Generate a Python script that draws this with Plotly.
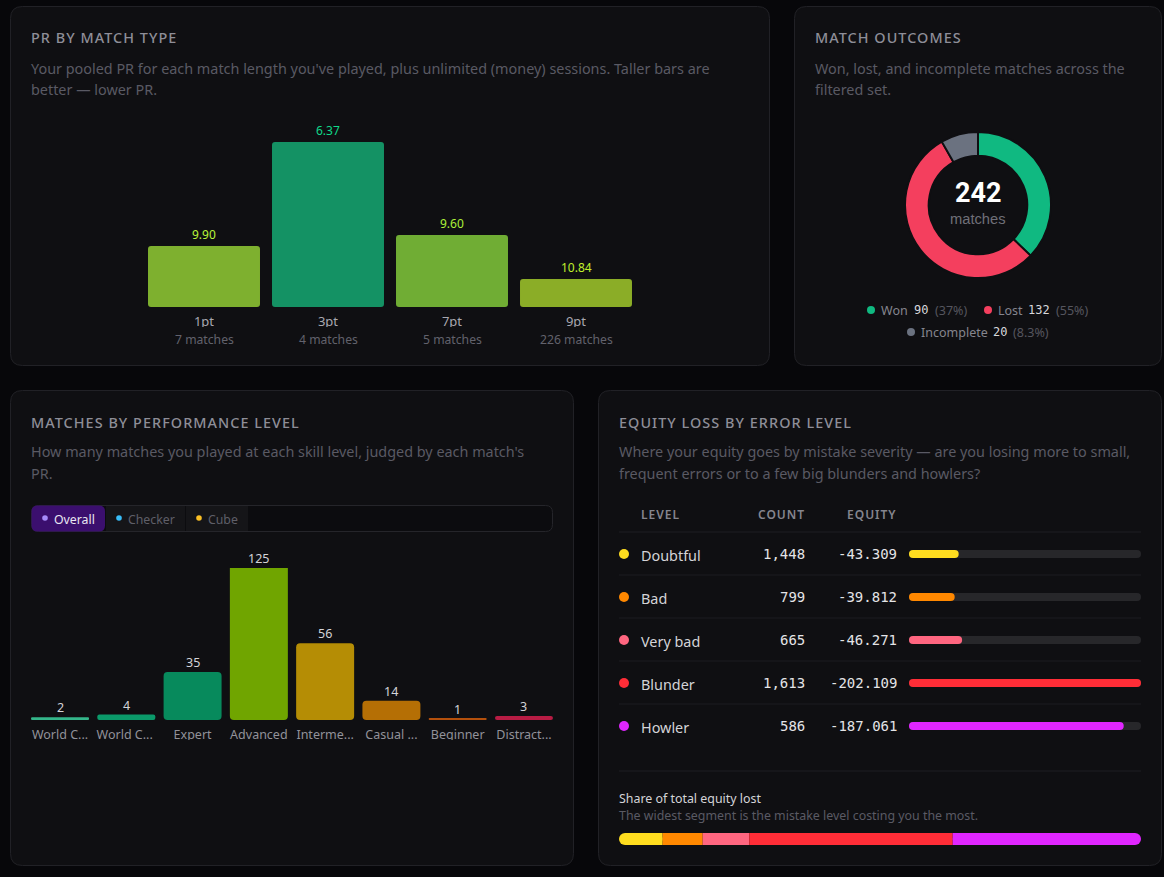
import plotly.graph_objects as go

W, H = 1164, 877
PAGE = "#07070a"
CARD = "#0f0f12"
BORDER = "#212126"
TITLE_C = "#8e8e98"
SUB_C = "#5a5a64"
SANS = "Noto Sans"
MONO = "DejaVu Sans Mono"

# ---- data -------------------------------------------------------------
match_types = ["1pt", "3pt", "7pt", "9pt"]
match_counts = ["7 matches", "4 matches", "5 matches", "226 matches"]
pr_labels = ["9.90", "6.37", "9.60", "10.84"]
pr_bar_heights = [61, 165, 72, 28]
pr_bar_colors = ["#7eb02f", "#149264", "#70ad34", "#8bad27"]
pr_text_colors = ["#b8f53a", "#10d98a", "#acf03a", "#c0f02c"]

outcomes = ["Won", "Lost", "Incomplete"]
outcome_counts = [90, 132, 20]
outcome_shares = ["(37%)", "(55%)", "(8.3%)"]
outcome_colors = ["#10b981", "#f43f5e", "#6b7280"]

skill_levels = ["World C...", "World C... ", "Expert", "Advanced", "Interme...", "Casual ...", "Beginner", "Distract..."]
skill_counts = [2, 4, 35, 125, 56, 14, 1, 3]
skill_colors = ["#34b68a", "#0b9a6a", "#078a5c", "#70a500", "#b58d05", "#b56f05", "#b4500c", "#b81c44"]
skill_axis_max = 111

error_levels = ["Doubtful", "Bad", "Very bad", "Blunder", "Howler"]
error_counts = ["1,448", "799", "665", "1,613", "586"]
error_equity = [-43.309, -39.812, -46.271, -202.109, -187.061]
error_colors = ["#ffdd1f", "#ff8800", "#ff6680", "#ff2d37", "#e026ff"]


# ---- helpers ----------------------------------------------------------
def px(x):
    return x / W


def py(y):
    return 1 - y / H


def xdom(a, b):
    return [px(a), px(b)]


def ydom(top, bottom):
    return [py(bottom), py(top)]


annotations, shapes = [], []


def text(x, y, s, size=14, color="#d4d4d8", family=SANS, anchor="left", weight=None, spacing=None):
    if spacing is not None:
        s = f'<span style="letter-spacing:{spacing}px">{s}</span>'
    font = dict(size=size, color=color, family=family)
    if weight:
        font["weight"] = weight
    annotations.append(dict(x=px(x), y=py(y), xref="paper", yref="paper", text=s, showarrow=False,
                            xanchor=anchor, yanchor="middle", font=font, borderpad=0, borderwidth=0))


def round_rect(x0, y0, x1, y1, r, fill, line=None, layer="below"):
    X0, X1, Y0, Y1 = px(x0), px(x1), py(y0), py(y1)
    rx, ry = r / W, r / H
    path = (f"M{X0 + rx},{Y0} L{X1 - rx},{Y0} Q{X1},{Y0} {X1},{Y0 - ry} L{X1},{Y1 + ry} Q{X1},{Y1} {X1 - rx},{Y1} "
            f"L{X0 + rx},{Y1} Q{X0},{Y1} {X0},{Y1 + ry} L{X0},{Y0 - ry} Q{X0},{Y0} {X0 + rx},{Y0} Z")
    shapes.append(dict(type="path", path=path, xref="paper", yref="paper", fillcolor=fill,
                       line=dict(color=line or fill, width=1 if line else 0), layer=layer))


def rect(x0, y0, x1, y1, fill, layer="below"):
    shapes.append(dict(type="rect", xref="paper", yref="paper", x0=px(x0), x1=px(x1), y0=py(y1), y1=py(y0),
                       fillcolor=fill, line=dict(width=0), layer=layer))


def hline(x0, x1, y, color="#1e1e22"):
    shapes.append(dict(type="line", xref="paper", yref="paper", x0=px(x0), x1=px(x1), y0=py(y), y1=py(y),
                       line=dict(color=color, width=1), layer="below"))


def dot(x, y, r, color):
    shapes.append(dict(type="circle", xref="paper", yref="paper", x0=px(x - r), x1=px(x + r), y0=py(y + r), y1=py(y - r),
                       fillcolor=color, line=dict(width=0), layer="below"))


def hidden_axis(**kw):
    return dict(showgrid=False, zeroline=False, showline=False, showticklabels=False, ticks="", fixedrange=True, **kw)


# ---- cards ------------------------------------------------------------
for c in [(10.5, 6.5, 769.5, 365.5), (794.5, 6.5, 1161.5, 365.5), (10.5, 390.5, 573.5, 865.5), (598.5, 390.5, 1161.5, 865.5)]:
    round_rect(*c, 12, CARD, BORDER)

TITLE_KW = dict(size=14.4, color=TITLE_C, weight=500, spacing=1.05)
SUB_KW = dict(size=14.4, color=SUB_C)

text(31, 38, "PR BY MATCH TYPE", **TITLE_KW)
text(31, 68, "Your pooled PR for each match length you've played, plus unlimited (money) sessions. Taller bars are", **SUB_KW)
text(31, 90, "better — lower PR.", **SUB_KW)
text(815, 38, "MATCH OUTCOMES", **TITLE_KW)
text(815, 68, "Won, lost, and incomplete matches across the", **SUB_KW)
text(815, 90, "filtered set.", **SUB_KW)
text(31, 422, "MATCHES BY PERFORMANCE LEVEL", **TITLE_KW)
text(31, 452, "How many matches you played at each skill level, judged by each match's", **SUB_KW)
text(31, 474, "PR.", **SUB_KW)
text(619, 422, "EQUITY LOSS BY ERROR LEVEL", **TITLE_KW)
text(619, 452, "Where your equity goes by mistake severity — are you losing more to small,", **SUB_KW)
text(619, 474, "frequent errors or to a few big blunders and howlers?", **SUB_KW)

fig = go.Figure()

# ---- PR by match type --------------------------------------------------
fig.add_trace(go.Bar(x=match_types, y=pr_bar_heights, base=[0] * len(match_types), width=0.903,
                     marker=dict(color=pr_bar_colors, cornerradius=3, line_width=0),
                     xaxis="x", yaxis="y", showlegend=False, hoverinfo="skip"))
for m, h, lab, col, cnt in zip(match_types, pr_bar_heights, pr_labels, pr_text_colors, match_counts):
    annotations.append(dict(x=m, y=h, xref="x", yref="y", text=lab, showarrow=False, yanchor="bottom", yshift=2,
                            font=dict(size=12, color=col, family=SANS), borderpad=0))
    annotations.append(dict(x=m, y=0, xref="x", yref="y", text=cnt, showarrow=False, yanchor="middle", yshift=-32,
                            font=dict(size=12.2, color="#62626c", family=SANS), borderpad=0))
rect(140, 327, 640, 333, CARD, layer="above")

# ---- match outcomes ----------------------------------------------------
fig.add_trace(go.Pie(labels=outcomes, values=outcome_counts, hole=0.675, sort=False, direction="clockwise", rotation=0,
                     marker=dict(colors=outcome_colors, line=dict(color=CARD, width=2)), textinfo="none",
                     domain=dict(x=xdom(905, 1051), y=ydom(132, 278)), showlegend=False, hoverinfo="skip"))
text(978, 192.5, f"{sum(outcome_counts)}", size=27, color="#ffffff", family="Roboto", anchor="center", weight=700)
text(978, 219, "matches", size=14.7, color="#6f6f78", family="Liberation Sans", anchor="center")

legend_rows = [(871, 881, 914, 935, 310), (988, 998, 1028, 1056, 310), (911, 921, 993, 1013, 332)]
for (dx, tx, nx, sx, y), name, n, share, col in zip(legend_rows, outcomes, outcome_counts, outcome_shares, outcome_colors):
    dot(dx, y, 4, col)
    text(tx, y + 0.5, name, size=12.5, color="#85858e")
    text(nx, y, str(n), size=12, color="#d8d8dc", family=MONO)
    text(sx, y + 0.5, share, size=12.5, color="#55555e")

# ---- performance level -------------------------------------------------
tab_y = 518.5
round_rect(31.5, 505.5, 552.5, 531.5, 7, "#0c0c0f", "#25252a")
round_rect(186, 506, 248, 531, 0.1, "#151518")
round_rect(106, 506, 185, 531, 0.1, "#151518")
round_rect(31.5, 505.5, 105, 531.5, 6, "#3b0f6e")
dot(45, 518, 2.8, "#a78bfa")
dot(119, 518, 2.8, "#38bdf8")
dot(199, 518, 2.8, "#fbbf24")
text(54, tab_y + 0.5, "Overall", size=12.3, color="#e9e6f2")
text(128, tab_y + 0.5, "Checker", size=12.3, color="#5f5f68")
text(208, tab_y + 0.5, "Cube", size=12.3, color="#5f5f68")

fig.add_trace(go.Bar(x=skill_levels, y=skill_counts, base=[0] * len(skill_levels), width=0.875,
                     marker=dict(color=skill_colors, cornerradius=4, line_width=0),
                     xaxis="x2", yaxis="y2", showlegend=False, hoverinfo="skip"))
for lv, n in zip(skill_levels, skill_counts):
    annotations.append(dict(x=lv, y=min(n, skill_axis_max), xref="x2", yref="y2", text=str(n), showarrow=False,
                            yanchor="bottom", yshift=0, font=dict(size=12.5, color="#d4d4d8", family=SANS), borderpad=0))
rect(20, 740, 560, 748, CARD, layer="above")

# ---- equity loss -------------------------------------------------------
header_kw = dict(size=12, color="#85858e", weight=600, spacing=1.0)
text(641, 514.5, "LEVEL", **header_kw)
text(804.5, 514.5, "COUNT", anchor="right", **header_kw)
text(896.5, 514.5, "EQUITY", anchor="right", **header_kw)
hline(619, 1141, 532)

equity_abs = [abs(v) for v in error_equity]
equity_max = max(equity_abs)
equity_total = sum(equity_abs)
row_tops = [532, 575, 618, 661, 704]
for i, (name, n, eq, col) in enumerate(zip(error_levels, error_counts, error_equity, error_colors)):
    yc = row_tops[i] + 22
    dot(624, yc, 5, col)
    text(641, yc + 1.5, name, size=14.4, color="#d4d4d8")
    text(804.5, yc, n, size=14, color="#e4e4e7", family=MONO, anchor="right")
    text(896.5, yc, f"{eq:.3f}", size=14, color="#e4e4e7", family=MONO, anchor="right")
    if i < 4:
        hline(619, 1141, row_tops[i + 1], "#1c1c20")
hline(619, 1141, 771)


def hbar(x, base, color, radius, xa, ya, y, width):
    fig.add_trace(go.Bar(x=x, y=y, base=base, orientation="h", width=width, xaxis=xa, yaxis=ya, showlegend=False,
                         hoverinfo="skip", marker=dict(color=color, cornerradius=radius, line_width=0)))


n_rows = len(error_levels)
bw = 8 / 43
hbar([equity_max] * n_rows, [0] * n_rows, "#27272a", 4, "x3", "y3", error_levels, bw)
hbar(equity_abs, [0] * n_rows, error_colors, 4, "x3", "y3", error_levels, bw)

text(619, 798, "Share of total equity lost", size=12.4, color="#d4d4d8")
text(619, 815, "The widest segment is the mistake level costing you the most.", size=12.4, color="#5a5a64")

# share bar: the two outer segments are rounded, and a square half covers their inner end
start = 0
for i, (v, col) in enumerate(zip(equity_abs, error_colors)):
    outer = i in (0, n_rows - 1)
    hbar([v], [start], col, 6 if outer else 0, "x4", "y4", ["share"], 1)
    if i == 0:
        hbar([v / 2], [start + v / 2], col, 0, "x4", "y4", ["share"], 1)
    if i == n_rows - 1:
        hbar([v / 2], [start], col, 0, "x4", "y4", ["share"], 1)
    start += v

# ---- layout ------------------------------------------------------------
fig.update_layout(
    width=W, height=H, autosize=False, margin=dict(l=0, r=0, t=0, b=0, pad=0),
    paper_bgcolor=PAGE, plot_bgcolor="rgba(0,0,0,0)", barmode="overlay", showlegend=False,
    annotations=annotations, shapes=shapes,
    font=dict(family=SANS, color="#d4d4d8"),
    xaxis=dict(domain=xdom(142, 638), range=[-0.5, 3.5], type="category", showgrid=False, zeroline=False, showline=False,
               ticks="", tickfont=dict(size=13, color="#a8a8b0", family=SANS), ticklabelstandoff=5, fixedrange=True, anchor="y"),
    yaxis=hidden_axis(domain=ydom(142, 307), range=[0, max(pr_bar_heights)], anchor="x"),
    xaxis2=dict(domain=xdom(26.9, 557.1), range=[-0.5, 7.5], type="category", showgrid=False, zeroline=False, showline=False,
                ticks="", tickfont=dict(size=12.5, color="#92929a", family=SANS), tickangle=0, ticklabelstandoff=5,
                fixedrange=True, anchor="y2"),
    yaxis2=hidden_axis(domain=ydom(568, 720), range=[0, skill_axis_max], anchor="x2"),
    xaxis3=hidden_axis(domain=xdom(909, 1141), range=[0, equity_max], anchor="y3"),
    yaxis3=hidden_axis(domain=ydom(532.5, 747.5), range=[n_rows - 0.5, -0.5], type="category",
                       categoryorder="array", categoryarray=error_levels, anchor="x3"),
    xaxis4=hidden_axis(domain=xdom(619, 1141), range=[0, equity_total], anchor="y4"),
    yaxis4=hidden_axis(domain=ydom(833, 845), type="category", range=[-0.5, 0.5], anchor="x4"),
)

fig.write_html("out.html", config=dict(displayModeBar=False),
               post_script="document.body.style.margin='0';document.body.style.background='%s';document.body.style.overflow='hidden';" % PAGE)
